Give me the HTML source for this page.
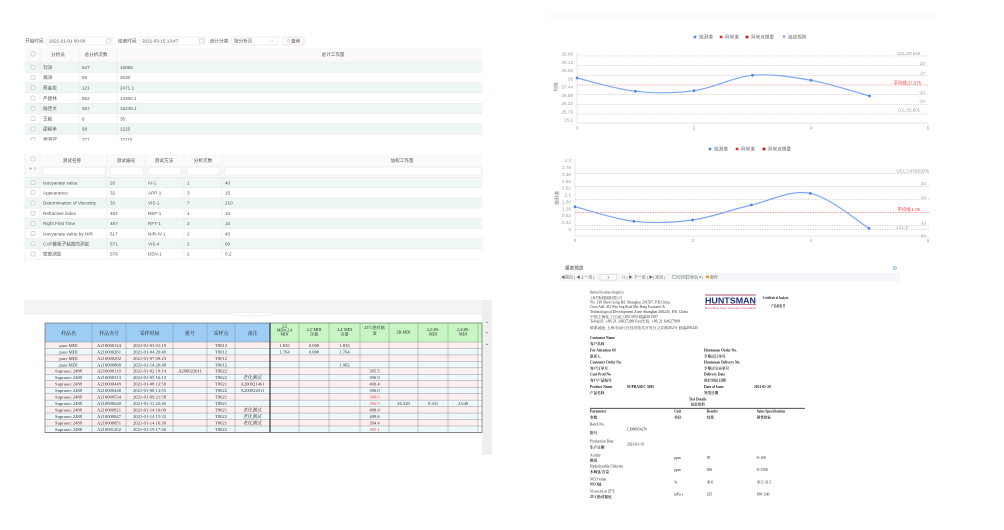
<!DOCTYPE html>
<html><head><meta charset="utf-8"><style>
html,body{margin:0;padding:0;background:#fff;width:1004px;height:530px;overflow:hidden}
svg{display:block}
.s{font-family:"Liberation Sans","Noto Sans CJK SC",sans-serif}
.r{font-family:"Liberation Serif","Noto Serif CJK SC","Noto Sans CJK SC",serif}
</style></head><body>
<svg width="1004" height="530" viewBox="0 0 1004 530" xmlns="http://www.w3.org/2000/svg">
<defs>
<clipPath id="c1"><rect x="0" y="0" width="500" height="140.5"/></clipPath>
</defs>
<rect width="1004" height="530" fill="#fff"/>

<!-- ===== Panel 1 ===== -->
<g class="s" font-size="4.6" fill="#555">
<text x="25" y="42.7">开始时间:</text>
<rect x="47" y="37" width="65" height="8" fill="#fff" stroke="#d9d9d9" stroke-width="0.5"/>
<text x="49" y="42.7">2021-01-01 00:00</text>
<rect x="106.5" y="39" width="4" height="4" fill="none" stroke="#aaa" stroke-width="0.4"/>
<text x="118" y="42.7">结束时间:</text>
<rect x="140" y="37" width="65" height="8" fill="#fff" stroke="#d9d9d9" stroke-width="0.5"/>
<text x="142" y="42.7">2021-03-15 13:47</text>
<rect x="199.5" y="39" width="4" height="4" fill="none" stroke="#aaa" stroke-width="0.4"/>
<text x="210" y="42.7">统计分类:</text>
<rect x="231" y="37" width="47" height="8" fill="#fff" stroke="#d9d9d9" stroke-width="0.5"/>
<text x="234" y="42.7">按分析员</text>
<path d="M270.5 40.3 L272 41.8 L273.5 40.3" fill="none" stroke="#aaa" stroke-width="0.4"/>
<rect x="283" y="37" width="21" height="8" fill="#fff" stroke="#e0c0c0" stroke-width="0.5" rx="1"/>
<circle cx="288.5" cy="40.7" r="1.3" fill="none" stroke="#e07a5a" stroke-width="0.4"/>
<text x="291" y="42.7" fill="#444">查询</text>
</g>

<g class="s" font-size="4.6" fill="#555" clip-path="url(#c1)">
<rect x="25" y="48" width="457" height="12" fill="#fafafa"/>
<line x1="25" y1="60.5" x2="482" y2="60.5" stroke="#ececec" stroke-width="0.5"/>
<rect x="31" y="52" width="4" height="4" fill="#fff" stroke="#999" stroke-width="0.4" rx="0.6"/>
<text x="58" y="56" text-anchor="middle">分析员</text>
<text x="96" y="56" text-anchor="middle">总分析次数</text>
<text x="333" y="56" text-anchor="middle">总计工作量</text>
<rect x="25" y="62" width="457" height="10.3" fill="#eef7f5"/>
<rect x="25" y="82.6" width="457" height="10.3" fill="#eef7f5"/>
<rect x="25" y="103.2" width="457" height="10.3" fill="#eef7f5"/>
<rect x="25" y="123.8" width="457" height="10.3" fill="#eef7f5"/>
<g stroke="#e6e6e6" stroke-width="0.5">
<line x1="25" y1="72.3" x2="482" y2="72.3"/><line x1="25" y1="82.6" x2="482" y2="82.6"/>
<line x1="25" y1="92.9" x2="482" y2="92.9"/><line x1="25" y1="103.2" x2="482" y2="103.2"/>
<line x1="25" y1="113.5" x2="482" y2="113.5"/><line x1="25" y1="123.8" x2="482" y2="123.8"/>
<line x1="25" y1="134.1" x2="482" y2="134.1"/><line x1="25" y1="62" x2="482" y2="62"/>
<line x1="40" y1="48" x2="40" y2="145"/><line x1="79" y1="48" x2="79" y2="145"/><line x1="117" y1="48" x2="117" y2="145"/>
</g>
<g fill="#fff" stroke="#999" stroke-width="0.4">
<rect x="31" y="65.2" width="4" height="4" rx="0.6"/><rect x="31" y="75.5" width="4" height="4" rx="0.6"/>
<rect x="31" y="85.8" width="4" height="4" rx="0.6"/><rect x="31" y="96.1" width="4" height="4" rx="0.6"/>
<rect x="31" y="106.4" width="4" height="4" rx="0.6"/><rect x="31" y="116.7" width="4" height="4" rx="0.6"/>
<rect x="31" y="127" width="4" height="4" rx="0.6"/><rect x="31" y="137.3" width="4" height="4" rx="0.6"/>
</g>
<text x="43" y="68.9">刘涛</text><text x="82" y="68.9">527</text><text x="120" y="68.9">15085</text>
<text x="43" y="79.2">瀚涛</text><text x="82" y="79.2">69</text><text x="120" y="79.2">2030</text>
<text x="43" y="89.5">蔡金花</text><text x="82" y="89.5">121</text><text x="120" y="89.5">2471.1</text>
<text x="43" y="99.8">严建林</text><text x="82" y="99.8">552</text><text x="120" y="99.8">13300.1</text>
<text x="43" y="110.1">陆佳文</text><text x="82" y="110.1">557</text><text x="120" y="110.1">16245.1</text>
<text x="43" y="120.4">王毅</text><text x="82" y="120.4">6</text><text x="120" y="120.4">35</text>
<text x="43" y="130.7">邵毅美</text><text x="82" y="130.7">58</text><text x="120" y="130.7">1225</text>
<text x="43" y="141">胡海冠</text><text x="82" y="141">371</text><text x="120" y="141">10115</text>
</g>

<!-- ===== Panel 2 ===== -->
<g class="s" font-size="4.6" fill="#555">
<rect x="25" y="154" width="457" height="23.5" fill="#fafafa"/>
<rect x="31" y="157" width="4" height="4" fill="#fff" stroke="#999" stroke-width="0.4" rx="0.6"/>
<circle cx="30.5" cy="168.5" r="1" fill="#6aa6f0"/>
<circle cx="35.3" cy="168.5" r="1.1" fill="none" stroke="#f0a050" stroke-width="0.45"/>
<text x="72" y="161.8" text-anchor="middle">测试名称</text>
<text x="126" y="161.8" text-anchor="middle">测试编号</text>
<text x="164" y="161.8" text-anchor="middle">测试方法</text>
<text x="203" y="161.8" text-anchor="middle">分析次数</text>
<text x="402" y="161.8" text-anchor="middle">加权工作量</text>
<g fill="#fff" stroke="#dcdcdc" stroke-width="0.5">
<rect x="43" y="167" width="62" height="8" rx="0.8"/><rect x="110" y="167" width="33" height="8" rx="0.8"/>
<rect x="148" y="167" width="33" height="8" rx="0.8"/><rect x="187" y="167" width="32" height="8" rx="0.8"/>
<rect x="225" y="167" width="257" height="8" rx="0.8"/>
</g>
<rect x="25" y="177.5" width="457" height="10.2" fill="#eef7f5"/>
<rect x="25" y="197.9" width="457" height="10.2" fill="#eef7f5"/>
<rect x="25" y="218.3" width="457" height="10.2" fill="#eef7f5"/>
<rect x="25" y="238.7" width="457" height="10.2" fill="#eef7f5"/>
<g stroke="#e6e6e6" stroke-width="0.5">
<line x1="25" y1="177.5" x2="482" y2="177.5"/><line x1="25" y1="187.7" x2="482" y2="187.7"/>
<line x1="25" y1="197.9" x2="482" y2="197.9"/><line x1="25" y1="208.1" x2="482" y2="208.1"/>
<line x1="25" y1="218.3" x2="482" y2="218.3"/><line x1="25" y1="228.5" x2="482" y2="228.5"/>
<line x1="25" y1="238.7" x2="482" y2="238.7"/><line x1="25" y1="248.9" x2="482" y2="248.9"/>
<line x1="25" y1="259.1" x2="482" y2="259.1"/>
<line x1="40" y1="154" x2="40" y2="259"/><line x1="107" y1="154" x2="107" y2="259"/>
<line x1="145.5" y1="154" x2="145.5" y2="259"/><line x1="184" y1="154" x2="184" y2="259"/>
<line x1="222" y1="154" x2="222" y2="259"/>
<line x1="25" y1="154" x2="25" y2="262"/>
</g>
<g fill="#fff" stroke="#999" stroke-width="0.4">
<rect x="31" y="180.6" width="4" height="4" rx="0.6"/><rect x="31" y="190.8" width="4" height="4" rx="0.6"/>
<rect x="31" y="201" width="4" height="4" rx="0.6"/><rect x="31" y="211.2" width="4" height="4" rx="0.6"/>
<rect x="31" y="221.4" width="4" height="4" rx="0.6"/><rect x="31" y="231.6" width="4" height="4" rx="0.6"/>
<rect x="31" y="241.8" width="4" height="4" rx="0.6"/><rect x="31" y="252" width="4" height="4" rx="0.6"/>
</g>
<text x="43" y="184.3">Isocyanate value</text><text x="110" y="184.3">20</text><text x="148" y="184.3">IV-1</text><text x="187" y="184.3">1</text><text x="225" y="184.3">40</text>
<text x="43" y="194.5">Appearance</text><text x="110" y="194.5">32</text><text x="148" y="194.5">APP-1</text><text x="187" y="194.5">3</text><text x="225" y="194.5">15</text>
<text x="43" y="204.7">Determination of Viscosity</text><text x="110" y="204.7">33</text><text x="148" y="204.7">VIS-1</text><text x="187" y="204.7">7</text><text x="225" y="204.7">210</text>
<text x="43" y="214.9">Refractive index</text><text x="110" y="214.9">484</text><text x="148" y="214.9">REF-1</text><text x="187" y="214.9">1</text><text x="225" y="214.9">10</text>
<text x="43" y="225.1">Right First Time</text><text x="110" y="225.1">487</text><text x="148" y="225.1">RFT-1</text><text x="187" y="225.1">3</text><text x="225" y="225.1">15</text>
<text x="43" y="235.3">Isocyanate value by NIR</text><text x="110" y="235.3">517</text><text x="148" y="235.3">NIR-IV-1</text><text x="187" y="235.3">2</text><text x="225" y="235.3">40</text>
<text x="43" y="245.5">CAP锥板子粘度的测定</text><text x="110" y="245.5">571</text><text x="148" y="245.5">VIS-4</text><text x="187" y="245.5">2</text><text x="225" y="245.5">60</text>
<text x="43" y="255.7">密度测定</text><text x="110" y="255.7">579</text><text x="148" y="255.7">DEN-1</text><text x="187" y="255.7">2</text><text x="225" y="255.7">0.2</text>
</g>

<!-- ===== Panel 3 spreadsheet ===== -->
<rect x="24" y="300" width="458" height="15" fill="#f3f4f6"/>
<rect x="482" y="300" width="10" height="155" fill="#efefef"/>
<g fill="#999"><path d="M485.5 323 L487 321.5 L488.5 323Z"/><path d="M485.5 332 L487 333.5 L488.5 332Z"/><path d="M485.5 345 L487 343.5 L488.5 345Z"/></g>
<rect x="233" y="312.5" width="39" height="3" fill="#fff" stroke="#ddd" stroke-width="0.4" rx="1.5"/>
<line x1="253" y1="312.5" x2="253" y2="315" stroke="#ccc" stroke-width="0.4"/>
<rect x="45" y="323" width="225" height="19" fill="#9dcdf5"/>
<rect x="270" y="323" width="212" height="19" fill="#c6f6c4"/>
<g>
<rect x="45" y="342" width="433" height="6.46" fill="#fcefef"/>
<rect x="45" y="348.46" width="433" height="6.46" fill="#eef8fc"/>
<rect x="45" y="354.92" width="433" height="6.46" fill="#fcefef"/>
<rect x="45" y="361.38" width="433" height="6.46" fill="#eef8fc"/>
<rect x="45" y="367.84" width="433" height="6.46" fill="#fcefef"/>
<rect x="45" y="374.3" width="433" height="6.46" fill="#eef8fc"/>
<rect x="45" y="380.76" width="433" height="6.46" fill="#fcefef"/>
<rect x="45" y="387.22" width="433" height="6.46" fill="#eef8fc"/>
<rect x="45" y="393.68" width="433" height="6.46" fill="#fcefef"/>
<rect x="45" y="400.14" width="433" height="6.46" fill="#eef8fc"/>
<rect x="45" y="406.6" width="433" height="6.46" fill="#fcefef"/>
<rect x="45" y="413.06" width="433" height="6.46" fill="#eef8fc"/>
<rect x="45" y="419.52" width="433" height="6.46" fill="#fcefef"/>
<rect x="45" y="425.98" width="433" height="6.46" fill="#eef8fc"/>
</g>
<g stroke="#7d7d7d" stroke-width="0.4">
<line x1="45" y1="342" x2="482" y2="342"/><line x1="45" y1="348.46" x2="482" y2="348.46"/>
<line x1="45" y1="354.92" x2="482" y2="354.92"/><line x1="45" y1="361.38" x2="482" y2="361.38"/>
<line x1="45" y1="367.84" x2="482" y2="367.84"/><line x1="45" y1="374.3" x2="482" y2="374.3"/>
<line x1="45" y1="380.76" x2="482" y2="380.76"/><line x1="45" y1="387.22" x2="482" y2="387.22"/>
<line x1="45" y1="393.68" x2="482" y2="393.68"/><line x1="45" y1="400.14" x2="482" y2="400.14"/>
<line x1="45" y1="406.6" x2="482" y2="406.6"/><line x1="45" y1="413.06" x2="482" y2="413.06"/>
<line x1="45" y1="419.52" x2="482" y2="419.52"/><line x1="45" y1="425.98" x2="482" y2="425.98"/>
<line x1="45" y1="432.44" x2="482" y2="432.44"/>
<line x1="92" y1="323" x2="92" y2="432.44"/><line x1="126" y1="323" x2="126" y2="432.44"/>
<line x1="173" y1="323" x2="173" y2="432.44"/><line x1="207" y1="323" x2="207" y2="432.44"/>
<line x1="235" y1="323" x2="235" y2="432.44"/>
<line x1="299" y1="323" x2="299" y2="432.44"/><line x1="329" y1="323" x2="329" y2="432.44"/>
<line x1="360" y1="323" x2="360" y2="432.44"/><line x1="389" y1="323" x2="389" y2="432.44"/>
<line x1="418" y1="323" x2="418" y2="432.44"/><line x1="448" y1="323" x2="448" y2="432.44"/>
<line x1="478" y1="323" x2="478" y2="432.44"/>
</g>
<rect x="45" y="323" width="437" height="109.44" fill="none" stroke="#555" stroke-width="0.6"/>
<line x1="270" y1="323" x2="270" y2="432.44" stroke="#333" stroke-width="1.2"/>
<g class="r" font-size="4.9" fill="#222" text-anchor="middle">
<text x="68.5" y="334.8">样品名</text><text x="109" y="334.8">样品夹号</text><text x="149.5" y="334.8">采样时间</text>
<text x="190" y="334.8">批号</text><text x="221" y="334.8">采样点</text><text x="252.5" y="334.8">备注</text>
</g>
<g class="r" font-size="4.1" fill="#222" text-anchor="middle">
<text x="284.5" y="327.4">2,2</text><text x="284.5" y="331.4">MDI+2,4</text><text x="284.5" y="335.3">MDI</text>
<text x="314" y="331.2">2,2' MDI</text><text x="314" y="335.6">含量</text>
<text x="344.5" y="331.2">2,4' MDI</text><text x="344.5" y="335.6">含量</text>
<text x="374.5" y="328.8">25℃绝对黏</text><text x="374.5" y="334.6">度</text>
<text x="403.5" y="333.3">2R-MDI</text>
<text x="433" y="331.2">2,2-2R-</text><text x="433" y="335.6">MDI</text>
<text x="463" y="331.2">2,4-2R-</text><text x="463" y="335.6">MDI</text>
</g>
<g class="r" font-size="4.6" fill="#333" text-anchor="middle">
<text x="68.5" y="346.9">pure MDI</text><text x="109" y="346.9">A210000124</text><text x="149.5" y="346.9">2021-01-03 01:19</text><text x="221" y="346.9">T8012</text><text x="284.5" y="346.9">1.835</text><text x="314" y="346.9">0.000</text><text x="344.5" y="346.9">1.835</text>
<text x="68.5" y="353.36">pure MDI</text><text x="109" y="353.36">A210000261</text><text x="149.5" y="353.36">2021-01-04 20:40</text><text x="221" y="353.36">T8012</text><text x="284.5" y="353.36">1.764</text><text x="314" y="353.36">0.000</text><text x="344.5" y="353.36">1.764</text>
<text x="68.5" y="359.82">pure MDI</text><text x="109" y="359.82">A210000292</text><text x="149.5" y="359.82">2021-01-07 09:23</text><text x="221" y="359.82">T8012</text>
<text x="68.5" y="366.28">pure MDI</text><text x="109" y="366.28">A210000868</text><text x="149.5" y="366.28">2021-01-14 20:48</text><text x="221" y="366.28">T8012</text><text x="344.5" y="366.28">1.982</text>
<text x="68.5" y="372.74">Suprasec 2488</text><text x="109" y="372.74">A210000110</text><text x="149.5" y="372.74">2021-01-02 19:14</text><text x="190" y="372.74">A200022011</text><text x="221" y="372.74">T8022</text><text x="374.5" y="372.74">395.5</text>
<text x="68.5" y="379.2">Suprasec 2488</text><text x="109" y="379.2">A210000313</text><text x="149.5" y="379.2">2021-01-05 16:13</text><text x="221" y="379.2">T8022</text><text x="252.5" y="379.2">老化测试</text><text x="374.5" y="379.2">396.9</text>
<text x="68.5" y="385.66">Suprasec 2488</text><text x="109" y="385.66">A210000449</text><text x="149.5" y="385.66">2021-01-08 13:58</text><text x="221" y="385.66">T8021</text><text x="252.5" y="385.66">A200021461</text><text x="374.5" y="385.66">400.4</text>
<text x="68.5" y="392.12">Suprasec 2488</text><text x="109" y="392.12">A210000448</text><text x="149.5" y="392.12">2021-01-08 13:55</text><text x="221" y="392.12">T8022</text><text x="252.5" y="392.12">A200022011</text><text x="374.5" y="392.12">396.0</text>
<text x="68.5" y="398.58">Suprasec 2488</text><text x="109" y="398.58">A210000534</text><text x="149.5" y="398.58">2021-01-09 21:58</text><text x="221" y="398.58">T8021</text><text x="374.5" y="398.58" fill="#f04848">308.6</text>
<text x="68.5" y="405.04">Suprasec 2488</text><text x="109" y="405.04">A210000640</text><text x="149.5" y="405.04">2021-01-11 22:26</text><text x="221" y="405.04">T8021</text><text x="374.5" y="405.04" fill="#f04848">366.9</text><text x="403.5" y="405.04">26.320</text><text x="433" y="405.04">0.331</text><text x="463" y="405.04">2.640</text>
<text x="68.5" y="411.5">Suprasec 2488</text><text x="109" y="411.5">A210000821</text><text x="149.5" y="411.5">2021-01-14 10:00</text><text x="221" y="411.5">T8021</text><text x="252.5" y="411.5">老化测试</text><text x="374.5" y="411.5">408.4</text>
<text x="68.5" y="417.96">Suprasec 2488</text><text x="109" y="417.96">A210000847</text><text x="149.5" y="417.96">2021-01-14 15:32</text><text x="221" y="417.96">T8022</text><text x="252.5" y="417.96">老化测试</text><text x="374.5" y="417.96">409.6</text>
<text x="68.5" y="424.42">Suprasec 2488</text><text x="109" y="424.42">A210000851</text><text x="149.5" y="424.42">2021-01-14 16:30</text><text x="221" y="424.42">T8021</text><text x="252.5" y="424.42">老化测试</text><text x="374.5" y="424.42">394.4</text>
<text x="68.5" y="430.88">Suprasec 2488</text><text x="109" y="430.88">A210001202</text><text x="149.5" y="430.88">2021-01-19 17:56</text><text x="221" y="430.88">T8022</text><text x="374.5" y="430.88" fill="#f04848">305.1</text>
</g>

<!-- ===== Panel 4: chart 1 ===== -->
<line x1="548" y1="16" x2="938" y2="16" stroke="#eeeeee" stroke-width="0.8"/>
<g class="s" font-size="4.6" fill="#666">
<circle cx="695" cy="37" r="1.4" fill="#4a86f0"/><text x="699" y="38.6">观测值</text>
<circle cx="721" cy="37" r="1.4" fill="#f02020"/><text x="725" y="38.6">异常值</text>
<rect x="745.6" y="35.6" width="2.8" height="2.8" fill="#d01818"/><text x="751" y="38.6">异常点增量</text>
<path d="M782.5 35.6 L785.5 35.6 L784 38.4Z" fill="#4a86f0"/><text x="788" y="38.6">连续规则</text>
</g>
<g class="s" font-size="4.6" fill="#999" text-anchor="end">
<text x="573" y="55.6">29.68</text><text x="573" y="63.9">29.12</text><text x="573" y="72.1">28.56</text>
<text x="573" y="80.4">28</text><text x="573" y="88.7">27.44</text><text x="573" y="96.9">26.88</text>
<text x="573" y="105.1">26.32</text><text x="573" y="113.4">25.76</text><text x="573" y="121.6">25.2</text>
</g>
<text class="s" font-size="4.6" fill="#777" transform="translate(557.5,87) rotate(-90)" text-anchor="middle">均值</text>
<line x1="577" y1="52" x2="577" y2="123" stroke="#d0d0d0" stroke-width="0.5"/>
<line x1="577" y1="123" x2="928" y2="123" stroke="#d0d0d0" stroke-width="0.6"/>
<g stroke="#d0d0d0" stroke-width="0.5"><line x1="694" y1="123" x2="694" y2="124.8"/><line x1="811" y1="123" x2="811" y2="124.8"/><line x1="928" y1="123" x2="928" y2="124.8"/></g>
<g class="s" font-size="4.6" fill="#999" text-anchor="middle">
<text x="577" y="129.5">0</text><text x="694" y="129.5">2</text><text x="811" y="129.5">4</text><text x="928" y="129.5">6</text>
</g>
<g stroke="#bdbdbd" stroke-width="0.6" stroke-dasharray="1.2,1.2">
<line x1="577" y1="55.9" x2="928" y2="55.9"/><line x1="577" y1="65.6" x2="928" y2="65.6"/>
<line x1="577" y1="75.3" x2="928" y2="75.3"/><line x1="577" y1="94.7" x2="928" y2="94.7"/>
<line x1="577" y1="104.4" x2="928" y2="104.4"/><line x1="577" y1="114.1" x2="928" y2="114.1"/>
</g>
<line x1="577" y1="85" x2="928" y2="85" stroke="#f26a6a" stroke-width="0.6" stroke-dasharray="1.5,1"/>
<g class="s" font-size="4.3" fill="#9a9a9a" text-anchor="end">
<text x="920" y="55">UCL:29.549</text>
<text x="925" y="64.8">2σ</text>
<text x="925" y="74.4">1σ</text>
<text x="921" y="84.3" fill="#f03c3c">平均线:27.575</text>
<text x="925" y="93.9">-1σ</text>
<text x="925" y="102.6">-2σ</text>
<text x="920" y="111.6">LCL:25.601</text>
</g>
<path d="M577 78 C586.75 80.22 616 89.18 635.5 91.3 C655 93.42 674.5 93.37 694 90.7 C713.5 88.03 733 77.03 752.5 75.3 C772 73.57 791.5 76.85 811 80.3 C830.5 83.75 859.75 93.38 869.5 96" fill="none" stroke="#7ea6f4" stroke-width="1.2"/>
<g fill="#4a86f0">
<circle cx="577" cy="78" r="1.4"/><circle cx="635.5" cy="91.3" r="1.4"/><circle cx="694" cy="90.7" r="1.4"/>
<circle cx="752.5" cy="75.3" r="1.4"/><circle cx="811" cy="80.3" r="1.4"/><circle cx="869.5" cy="96" r="1.4"/>
</g>

<!-- ===== Panel 5: chart 2 ===== -->
<g class="s" font-size="4.6" fill="#666">
<circle cx="710" cy="149" r="1.4" fill="#4a86f0"/><text x="714" y="150.6">观测值</text>
<circle cx="737" cy="149" r="1.4" fill="#f02020"/><text x="741" y="150.6">异常值</text>
<rect x="762.6" y="147.6" width="2.8" height="2.8" fill="#d01818"/><text x="768" y="150.6">异常点增量</text>
</g>
<g class="s" font-size="4.6" fill="#999" text-anchor="end">
<text x="571" y="162.2">4.2</text><text x="571" y="169.1">3.78</text><text x="571" y="176">3.36</text>
<text x="571" y="182.8">2.94</text><text x="571" y="189.7">2.52</text><text x="571" y="196.6">2.1</text>
<text x="571" y="203.4">1.68</text><text x="571" y="210.3">1.26</text><text x="571" y="217.2">0.84</text>
<text x="571" y="224">0.42</text><text x="571" y="230.9">0</text>
</g>
<text class="s" font-size="4.6" fill="#777" transform="translate(558.5,198) rotate(-90)" text-anchor="middle">观测值</text>
<line x1="575" y1="158" x2="575" y2="236" stroke="#d0d0d0" stroke-width="0.5"/>
<line x1="575" y1="236" x2="928" y2="236" stroke="#d0d0d0" stroke-width="0.6"/>
<g stroke="#d0d0d0" stroke-width="0.5"><line x1="693" y1="236" x2="693" y2="237.8"/><line x1="811" y1="236" x2="811" y2="237.8"/><line x1="928" y1="236" x2="928" y2="237.8"/></g>
<g class="s" font-size="4.6" fill="#999" text-anchor="middle">
<text x="575" y="242">0</text><text x="693" y="242">2</text><text x="811" y="242">4</text><text x="928" y="242">6</text>
</g>
<g stroke="#bdbdbd" stroke-width="0.6" stroke-dasharray="1.2,1.2">
<line x1="575" y1="173.3" x2="930" y2="173.3"/><line x1="575" y1="186.7" x2="930" y2="186.7"/>
<line x1="575" y1="199.7" x2="930" y2="199.7"/><line x1="575" y1="225.3" x2="930" y2="225.3"/>
<line x1="575" y1="229.3" x2="930" y2="229.3"/>
</g>
<line x1="575" y1="212.3" x2="930" y2="212.3" stroke="#f26a6a" stroke-width="0.6" stroke-dasharray="1.5,1"/>
<g class="s" font-size="4.3" fill="#9a9a9a" text-anchor="end">
<text x="929" y="172.3">UCL:3.43035006</text>
<text x="926" y="185">2σ</text>
<text x="926" y="199">1σ</text>
<text x="920" y="211" fill="#f03c3c">平均线:1.05</text>
<text x="926" y="224.4">-1σ</text>
<text x="908" y="229">LCL:0</text>
<text x="926" y="237.7">-2σ</text>
</g>
<path d="M575 206.7 C584.8 209.13 614.2 219.08 633.8 221.3 C653.4 223.52 673 222.72 692.6 220 C712.2 217.28 731.8 209.45 751.4 205 C771 200.55 790.6 189.42 810.2 193.3 C829.8 197.18 859.2 222.47 869 228.3" fill="none" stroke="#7ea6f4" stroke-width="1.2"/>
<g fill="#4a86f0">
<circle cx="575" cy="206.7" r="1.4"/><circle cx="633.8" cy="221.3" r="1.4"/><circle cx="692.6" cy="220" r="1.4"/>
<circle cx="751.4" cy="205" r="1.4"/><circle cx="810.2" cy="193.3" r="1.4"/><circle cx="869" cy="228.3" r="1.4"/>
</g>

<!-- ===== Panel 6: report ===== -->
<g class="s" font-size="4.6" fill="#333">
<text x="565" y="269.6">报表预览</text>
</g>
<circle cx="895" cy="268" r="2" fill="#9cc4f2"/>
<path d="M893.8 268 H896.2 M895 266.8 V269.2" stroke="#fff" stroke-width="0.5"/>
<rect x="560" y="273" width="340" height="8.5" fill="#f4f6f9"/>
<g class="s" font-size="4" fill="#666">
<text x="561" y="278.7">◀首页 |  ◀上一页  |</text>
<rect x="600" y="274.5" width="16.5" height="5.5" fill="#fff" stroke="#bbb" stroke-width="0.4"/>
<text x="607" y="278.7" fill="#333">1</text>
<text x="622" y="278.7">/1  |  ▶ 下一页  | ▶| 末页  |</text>
<rect x="672.5" y="275.3" width="3.5" height="3" fill="none" stroke="#777" stroke-width="0.4"/>
<text x="677" y="278.7">打印  |</text>
<rect x="686" y="275.2" width="3" height="3.2" fill="none" stroke="#3a8a3a" stroke-width="0.4"/>
<text x="690" y="278.7">导出 ▾  |</text>
<rect x="706" y="275.5" width="3.2" height="2.6" fill="#f0a020"/>
<text x="710" y="278.7">邮件</text>
</g>
<g class="r" font-size="3.6" fill="#333">
<text x="590" y="293.3" textLength="34" lengthAdjust="spacingAndGlyphs">Huntsman Polyurethanes Shanghai Ltd.</text>
<text x="590" y="298.8" textLength="32" lengthAdjust="spacingAndGlyphs">上海亨斯迈聚氨酯有限公司</text>
<text x="590" y="303.3" textLength="80" lengthAdjust="spacingAndGlyphs">No. 339 Shen Gong Rd. Shanghai 201507, P.R.China</text>
<text x="590" y="308" textLength="75" lengthAdjust="spacingAndGlyphs">Cross Add: 452 Wen Jing Road Min Hang Economic &amp;</text>
<text x="590" y="312.8" textLength="98" lengthAdjust="spacingAndGlyphs">Technological Development Zone Shanghai 200245, P.R. China</text>
<text x="590" y="317.8" textLength="68" lengthAdjust="spacingAndGlyphs">中国上海化工区南工路139号邮编201507</text>
<text x="590" y="322.6" textLength="90" lengthAdjust="spacingAndGlyphs">Tel电话: +86 21 24037288 Fax传真: +86 21 64627999</text>
<text x="590" y="328.8" textLength="108" lengthAdjust="spacingAndGlyphs">联系地址:上海市闵行区经济技术开发区文井路452号 邮编200245</text>
</g>
<line x1="705" y1="295" x2="756" y2="295" stroke="#8c1b3c" stroke-width="0.7"/>
<line x1="705" y1="304.3" x2="756" y2="304.3" stroke="#8c1b3c" stroke-width="0.7"/>
<text class="s" x="705" y="303.3" font-size="8.2" font-weight="bold" fill="#1d2d7a" textLength="51" lengthAdjust="spacingAndGlyphs">HUNTSMAN</text>
<text class="s" x="705" y="308.8" font-size="3" fill="#c24a7a" textLength="51" lengthAdjust="spacingAndGlyphs">Enriching lives through innovation</text>
<g class="r" font-size="3.6" fill="#222">
<text x="762.7" y="299" font-weight="bold" textLength="25.7" lengthAdjust="spacingAndGlyphs">Certificate of Analysis</text>
<text x="771" y="307" font-weight="bold" textLength="14" lengthAdjust="spacingAndGlyphs">产品检验书</text>
</g>
<g class="r" font-size="3.6" fill="#222">
<text x="590" y="339" font-weight="bold">Customer Name</text>
<text x="590" y="345" font-weight="bold">客户名称</text>
<text x="590" y="351.3" font-weight="bold">For Attention Of</text>
<text x="704" y="351.3" font-weight="bold">Huntsman Order No.</text>
<text x="590" y="357.3" font-weight="bold">联系人</text>
<text x="704" y="357.3" font-weight="bold">亨斯迈订单号</text>
<text x="590" y="363.3" font-weight="bold">Customer Order No.</text>
<text x="704" y="363.3" font-weight="bold">Huntsman Delivery No.</text>
<text x="590" y="369.6" font-weight="bold">客户订单号</text>
<text x="704" y="369.6" font-weight="bold">亨斯迈交运单号</text>
<text x="590" y="375.6" font-weight="bold">Cust Prod No</text>
<text x="704" y="375.6" font-weight="bold">Delivery Date</text>
<text x="590" y="381.6" font-weight="bold">客户产品编号</text>
<text x="704" y="381.6" font-weight="bold">预计到达日期</text>
<text x="590" y="388" font-weight="bold">Product Name</text>
<text x="627" y="388" font-weight="bold">SUPRASEC 5005</text>
<text x="704" y="388" font-weight="bold">Date of Issue</text>
<text x="754" y="388" font-weight="bold">2021-01-20</text>
<text x="590" y="394" font-weight="bold">产品名称</text>
<text x="704" y="394" font-weight="bold">签发日期</text>
<text x="697.7" y="400.6" text-anchor="middle" font-weight="bold">Test Details</text>
<text x="697.7" y="405.3" text-anchor="middle" font-weight="bold">试验资料</text>
</g>
<line x1="590" y1="408.3" x2="805" y2="408.3" stroke="#333" stroke-width="0.8"/>
<g class="r" font-size="3.6" fill="#222">
<text x="590" y="412.3" font-weight="bold">Parameter</text><text x="674.3" y="412.3" font-weight="bold">Unit</text>
<text x="706.7" y="412.3" font-weight="bold">Results</text><text x="756.7" y="412.3" font-weight="bold">Sales Specification</text>
<text x="590" y="418.6" font-weight="bold">参数</text><text x="674.3" y="418.6" font-weight="bold">单位</text>
<text x="706.7" y="418.6" font-weight="bold">结果</text><text x="756.7" y="418.6" font-weight="bold">销售指标</text>
<text x="590" y="425.6">Batch No.</text>
<text x="627" y="430.6">CJ900054270</text>
<text x="590" y="434" font-weight="bold">批号</text>
<text x="590" y="442.3">Production Date</text>
<text x="627" y="445.6">2021-01-19</text>
<text x="590" y="448.3" font-weight="bold">生产日期</text>
<text x="590" y="456.3">Acidity</text>
<text x="674.3" y="459">ppm</text><text x="706.7" y="459">95</text><text x="756.7" y="459">0~100</text>
<text x="590" y="461.6" font-weight="bold">酸度</text>
<text x="590" y="467.3">Hydrolyzable Chlorine</text>
<text x="674.3" y="471">ppm</text><text x="706.7" y="471">836</text><text x="756.7" y="471">0~1500</text>
<text x="590" y="473" font-weight="bold">水解氯/含量</text>
<text x="590" y="480.6">NCO value</text>
<text x="674.3" y="483.3">%</text><text x="706.7" y="483.3">30.6</text><text x="756.7" y="483.3">30.5~31.5</text>
<text x="590" y="485.3" font-weight="bold">NCO值</text>
<text x="590" y="492.3">Viscosity at 25°C</text>
<text x="674.3" y="495.3">mPa·s</text><text x="706.7" y="495.3">235</text><text x="756.7" y="495.3">180~240</text>
<text x="590" y="498" font-weight="bold">25℃绝对黏度</text>
</g>
</svg>
</body></html>
